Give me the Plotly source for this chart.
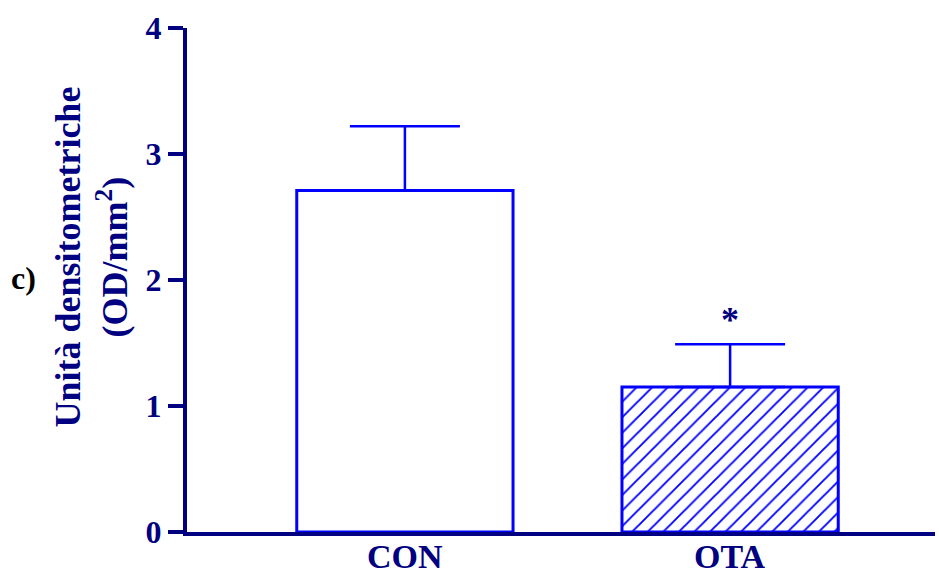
import plotly.graph_objects as go

# Densitometric units per group (mean and upper SEM)
groups = ["CON", "OTA"]
means = [2.71, 1.15]
sem = [0.51, 0.34]
patterns = ["", "/"]
y_ticks = [0, 1, 2, 3, 4]

NAVY = "#000080"
BLUE = "#0000ff"
FONT = "Liberation Serif, Times New Roman, serif"

fig = go.Figure()
fig.add_trace(go.Bar(
    x=groups,
    y=means,
    width=0.665,
    marker=dict(
        color="white",
        line=dict(color=BLUE, width=3),
        pattern=dict(shape=patterns, fgcolor=BLUE, fgopacity=1, bgcolor="white",
                     size=11, solidity=0.17, fillmode="overlay"),
    ),
    error_y=dict(type="data", array=sem, arrayminus=[0, 0], symmetric=False,
                 color=BLUE, thickness=2.5, width=55),
    showlegend=False,
))

# significance marker above the OTA error bar
fig.add_annotation(x="OTA", y=means[1] + sem[1], text="<b>*</b>", showarrow=False,
                   yshift=24, font=dict(family=FONT, size=36, color=NAVY))

# group labels under the x axis
for g in groups:
    fig.add_annotation(x=g, xref="x", yref="paper", y=0, text=f"<b>{g}</b>",
                       showarrow=False, xanchor="center", yanchor="middle", yshift=-24,
                       font=dict(family=FONT, size=34, color=NAVY))

# y-axis title
fig.add_annotation(xref="paper", yref="paper", x=-0.128, y=0.545,
                   text="<b>Unità densitometriche<br>(OD/mm<sup>2</sup>)</b>",
                   textangle=-90, showarrow=False, xanchor="center", yanchor="middle",
                   font=dict(family=FONT, size=36, color=NAVY))

# panel label
fig.add_annotation(xref="paper", yref="paper", x=-0.218, y=0.504,
                   text="<b>c)</b>", showarrow=False, xanchor="center", yanchor="middle",
                   font=dict(family=FONT, size=32, color="black"))

fig.update_layout(
    width=939, height=575,
    margin=dict(l=187, r=4, t=28, b=43),
    paper_bgcolor="white", plot_bgcolor="white",
    xaxis=dict(
        range=[-0.67, 1.63], showline=True, linecolor=NAVY, linewidth=4,
        showgrid=False, zeroline=False, ticks="", showticklabels=False,
        automargin=False,
    ),
    yaxis=dict(
        range=[0, 4], tickvals=y_ticks, showline=True, linecolor=NAVY, linewidth=4,
        showgrid=False, zeroline=False, ticks="outside", ticklen=15, tickwidth=4,
        tickcolor=NAVY, automargin=False,
        tickfont=dict(family=FONT, size=32, color=NAVY, weight="bold"),
    ),
)

fig.write_html("out.html")
